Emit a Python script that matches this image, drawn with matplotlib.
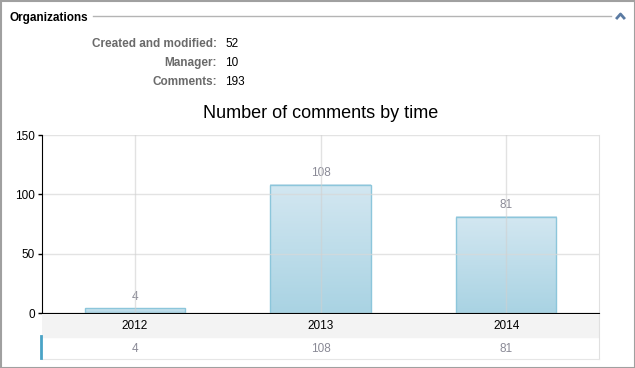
import numpy as np
import matplotlib
matplotlib.use('Agg')
from matplotlib import pyplot as plt
from matplotlib.patches import Rectangle
from matplotlib.lines import Line2D

plt.rcParams['font.family'] = ['Liberation Sans', 'DejaVu Sans']

# data
years = ['2012', '2013', '2014']
comments = [4, 108, 81]
info_labels = ['Created and modified:', 'Manager:', 'Comments:']
info_values = ['52', '10', '193']
yticks = [0, 50, 100, 150]

W, H = 635, 368
fig = plt.figure(figsize=(W / 100, H / 100), dpi=100)
fig.patch.set_facecolor('white')


def fx(px):
    return px / W


def fy(py):
    return 1 - py / H


# outer frame
fig.patches.append(Rectangle((fx(0.5), fy(367.5)), fx(634), fy(0.5) - fy(367.5),
                             transform=fig.transFigure, fill=False,
                             edgecolor='#a0a0a0', linewidth=1.5))

# header
fig.text(fx(9), fy(18), 'Organizations', fontsize=8.5, fontweight='bold',
         va='center', ha='left', color='black')
fig.lines.append(Line2D([fx(93), fx(611)], [fy(16), fy(16)], transform=fig.transFigure,
                        color='#b4b4b4', linewidth=1))
fig.lines.append(Line2D([fx(617), fx(620.5), fx(624)], [fy(18), fy(14), fy(18)],
                        transform=fig.transFigure, color='#5b7ba3', linewidth=2))

# info block
for i, (lab, val) in enumerate(zip(info_labels, info_values)):
    y = fy(44 + i * 19)
    fig.text(fx(217), y, lab, fontsize=8.5, fontweight='bold', color='#6a6a6a',
             ha='right', va='center')
    fig.text(fx(225), y, val, fontsize=8.5, color='black', ha='left', va='center')

# title
fig.text(fx(321), fy(113), 'Number of comments by time', fontsize=13,
         ha='center', va='center', color='black')

# main axes
ax = fig.add_axes([fx(42), fy(313), fx(599) - fx(42), fy(135) - fy(313)])
x = np.arange(len(years))
bars = ax.bar(x, comments, width=0.54, facecolor='none', edgecolor='#8cc6db',
              linewidth=1, zorder=3)

grad = np.linspace(0, 1, 256).reshape(-1, 1)
cmap = matplotlib.colors.LinearSegmentedColormap.from_list('b', ['#a9d3e3', '#d3e7f1'])
for b in bars:
    ax.imshow(grad, extent=[b.get_x(), b.get_x() + b.get_width(), 0, b.get_height()],
              origin='lower', cmap=cmap, aspect='auto', zorder=2)

for xi, v in zip(x, comments):
    ax.annotate(str(v), (xi, v), xytext=(0, 4), textcoords='offset points',
                ha='center', va='bottom', fontsize=8.5, color='#8a8a96')

ax.set_xlim(-0.5, len(years) - 0.5)
ax.set_ylim(0, 150)
ax.set_yticks(yticks)
ax.set_yticklabels([str(t) for t in yticks], fontsize=8.5)
ax.set_xticks(x)
ax.set_xticklabels([])
ax.tick_params(axis='x', length=0)
ax.tick_params(axis='y', length=3, width=1, pad=2)
for t in yticks:
    ax.axhline(t, color='#d8d8d8', linewidth=1, alpha=0.7, zorder=4)
for xi in x:
    ax.axvline(xi, color='#d0d0d0', linewidth=1, alpha=0.6, zorder=4)
ax.spines['left'].set_color('black')
ax.spines['bottom'].set_color('black')
ax.spines['left'].set_zorder(5)
ax.spines['bottom'].set_zorder(5)
ax.spines['top'].set_visible(False)
ax.spines['right'].set_color('#e0e0e0')

# category band and value row
tab = fig.add_axes([fx(42), fy(359), fx(599) - fx(42), fy(314) - fy(359)])
tab.set_xlim(-0.5, len(years) - 0.5)
tab.set_ylim(0, 2)
tab.axhspan(1, 2, color='#f3f3f3', zorder=0)
for xi, yr, v in zip(x, years, comments):
    tab.text(xi, 1.45, yr, ha='center', va='center', fontsize=8.5, color='black')
    tab.text(xi, 0.45, str(v), ha='center', va='center', fontsize=8.5, color='#8a8a96')
tab.set_xticks([])
tab.set_yticks([])
for s in ['top', 'left']:
    tab.spines[s].set_visible(False)
tab.spines['right'].set_color('#e0e0e0')
tab.spines['bottom'].set_color('#e6e6e6')
fig.lines.append(Line2D([fx(40.5), fx(40.5)], [fy(336), fy(358)], transform=fig.transFigure,
                        color='#4aa3c6', linewidth=2))

fig.savefig('out.png', dpi=100)
